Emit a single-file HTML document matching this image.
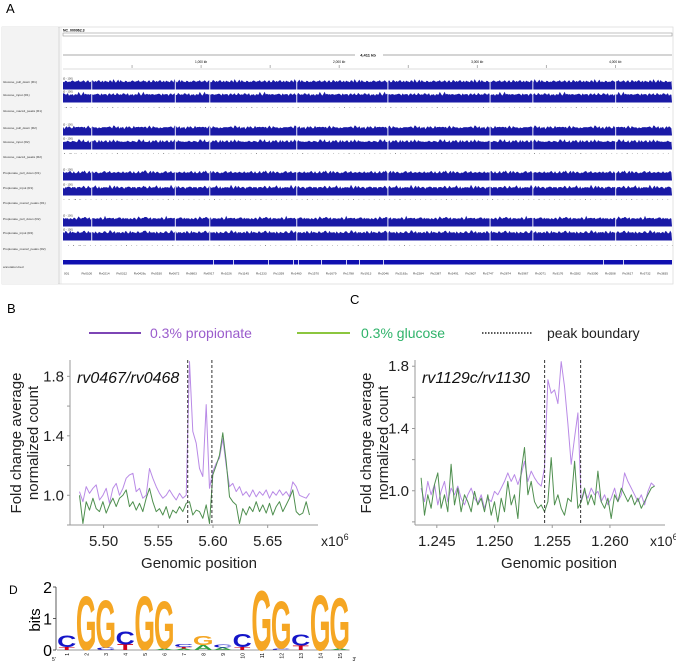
<!DOCTYPE html>
<html><head><meta charset="utf-8"><style>
html,body{margin:0;padding:0;background:#fff;}
svg{display:block;font-family:"Liberation Sans",Arial,sans-serif;}
</style></head><body>
<svg id="fig" width="676" height="663" viewBox="0 0 676 663" xmlns="http://www.w3.org/2000/svg">
<text x="6" y="13" font-size="13">A</text>
<text x="7" y="313" font-size="13">B</text>
<text x="350" y="304" font-size="13">C</text>
<text x="9" y="594" font-size="12">D</text>

<g id="panelA">
  <rect x="2" y="27" width="671" height="257" fill="#fff" stroke="#ddd" stroke-width="0.8"/>
  <rect x="2" y="27" width="56" height="257" fill="#f3f3f3"/>
  <line x1="59" y1="27" x2="59" y2="284" stroke="#ccc" stroke-width="1"/>
  <line x1="61" y1="27" x2="61" y2="284" stroke="#ddd" stroke-width="0.6"/>
  <text x="63" y="31.5" font-size="3.5" font-weight="bold">NC_000962.3</text>
  <rect x="63" y="33" width="609" height="3" fill="none" stroke="#999" stroke-width="0.6"/>
  <line x1="63" y1="55" x2="672" y2="55" stroke="#555" stroke-width="0.6"/>
  <rect x="355" y="52" width="28" height="6" fill="#fff"/>
  <text x="368" y="56.5" font-size="4" text-anchor="middle" font-weight="bold">4,411 kb</text>
  <line x1="63" y1="69" x2="672" y2="69" stroke="#bbb" stroke-width="0.6"/>
  <g id="ruler"></g>
  <g id="tracks"></g>
  <rect x="63" y="260" width="609" height="4.5" fill="#1010b0"/>
  <g id="genes"></g>
</g>

<g id="legend">
  <g>
    <line x1="89" y1="333" x2="141" y2="333" stroke="#7d45b5" stroke-width="2"/>
    <text x="150" y="338" font-size="14" fill="#9a5ccc">0.3% propionate</text>
  </g>
  <g>
    <line x1="297" y1="333" x2="350" y2="333" stroke="#8cc63f" stroke-width="2"/>
    <text x="361" y="338" font-size="14" fill="#2fb36a">0.3% glucose</text>
  </g>
  <g>
    <line x1="482" y1="333" x2="532" y2="333" stroke="#222" stroke-width="1.6" stroke-dasharray="1.5,1.5"/>
    <text x="547" y="338" font-size="14" fill="#222">peak boundary</text>
  </g>
</g>

<g id="chartB"></g>
<g id="chartC"></g>
<g id="logo"></g>
</svg>
<script>
const NS="http://www.w3.org/2000/svg";
function mk(tag,attrs,parent,txt){const e=document.createElementNS(NS,tag);for(const k in attrs)e.setAttribute(k,attrs[k]);if(txt!==undefined)e.textContent=txt;parent.appendChild(e);return e;}

/* ---------- Panel A data ---------- */
const rulerLabels=["1,000 kb","2,000 kb","3,000 kb","4,000 kb"];
const rulerKb=[1000,2000,3000,4000];
const genomeKb=4411;
const trackNames=["Glucose_pull_down (R1)","Glucose_input (R1)","Glucose_macs2_peaks (R1)","Glucose_pull_down (R2)","Glucose_input (R2)","Glucose_macs2_peaks (R2)","Propionate_pull_down (R1)","Propionate_input (R1)","Propionate_macs2_peaks (R1)","Propionate_pull_down (R2)","Propionate_input (R2)","Propionate_macs2_peaks (R2)"];
const trackTops=[77,90,107,123,137,153,168,183,199,214,228,245];
const trackKinds=["cov","cov","peak","cov","cov","peak","cov","cov","peak","cov","cov","peak"];
const coverageProfile=[0.55,0.7,0.6,0.85,0.5,0.65,0.9,0.6,0.45,0.75,0.95,0.6,0.5,0.7,0.8,0.55,0.4,0.65,0.85,0.7,0.5,0.6,1.0,0.65,0.5,0.7,0.6,0.8,0.45,0.55,0.75,0.9,0.6,0.5,0.65,0.7,0.85,0.55,0.45,0.6,0.8,0.7,0.5,0.65,0.95,0.6,0.55,0.7,0.5,0.75];
const gapKb=[205,810,1060,1690,2350,3090,3400,4000];
const geneLabels=["001","Rv0100","Rv0214","Rv0312","Rv0426c","Rv0530","Rv0672","Rv0803","Rv0917","Rv1026","Rv1145","Rv1233","Rv1359","Rv1460","Rv1570","Rv1679","Rv1788","Rv1913","Rv2046","Rv2163c","Rv2284","Rv2387","Rv2491","Rv2607","Rv2747","Rv2874","Rv2967","Rv3071","Rv3176","Rv3282","Rv3390","Rv3508","Rv3617","Rv3732","Rv3835"];
const AX0=63,AX1=672;
function kx(kb){return AX0+(AX1-AX0)*kb/genomeKb;}
const ruler=document.getElementById('ruler');
rulerKb.forEach((kb,i)=>{
  const t=mk('text',{x:kx(kb),y:63,'font-size':3.2,'text-anchor':'middle'},ruler,rulerLabels[i]);
  
  
  mk('line',{x1:kx(kb),y1:65,x2:kx(kb),y2:68,stroke:'#666','stroke-width':0.5},ruler);
  mk('line',{x1:kx(kb-500),y1:65,x2:kx(kb-500),y2:68,stroke:'#666','stroke-width':0.5},ruler);
});
const tracks=document.getElementById('tracks');
trackNames.forEach((nm,i)=>{
  const g=mk('g',{},tracks);
  
  
  const top=trackTops[i];
  mk('text',{x:3,y:top+(trackKinds[i]==='cov'?6:5),'font-size':3.1,fill:'#333'},g,nm);
  if(trackKinds[i]==='cov'){
    mk('text',{x:63,y:top+2.5,'font-size':2.6,fill:'#333'},g,'[0 - 100]');
    const base=top+12.5;
    let d='M'+AX0+' '+base;
    const n=coverageProfile.length;
    for(let x=AX0;x<=AX1;x+=1.2){
      const idx=Math.floor((x-AX0)/1.2);
      const v=coverageProfile[(idx*7+i*3)%n]*0.6+coverageProfile[(idx*3+5)%n]*0.4;
      d+=' L'+x.toFixed(1)+' '+(base-3-v*8).toFixed(1);
    }
    d+=' L'+AX1+' '+base+' Z';
    mk('path',{d:d,fill:'#1a1aa6'},g);
    gapKb.forEach(kb=>mk('rect',{x:kx(kb),y:top+2,width:0.9,height:11,fill:'#fff'},g));
  } else {
    for(let k=0;k<120;k++){
      const kb=(k*37.3+i*11)%genomeKb;
      mk('rect',{x:kx(kb),y:top,width:0.8,height:0.8,fill:(k%9===0?'#555':'#aaa')},g);
    }
  }
});
mk('text',{x:3,y:268,'font-size':3.1,fill:'#333'},tracks,'annotation.bed');
const genes=document.getElementById('genes');
geneLabels.forEach((gl,i)=>{
  const t=mk('text',{x:AX0+1+i*17.45,y:274.5,'font-size':3.1,fill:'#333'},genes,gl);
  
  
});
[150,170,205,230,235,258,283,296,320,540,560].forEach(px=>mk('rect',{x:AX0+px,y:260,width:0.8,height:4.5,fill:'#fff'},genes));

/* ---------- Chart B data ---------- */
const bStart=5.478, bStep=0.003047;
const bPropionate=[1.025,0.957,1.058,1.013,1.047,1.07,0.968,1.0,1.047,0.946,1.047,1.08,1.0,1.047,1.115,1.137,1.148,1.025,1.047,0.98,1.0,1.18,1.115,1.058,1.013,0.98,1.0,1.036,1.0,0.968,1.013,0.98,1.0,1.9,1.43,1.35,1.18,1.126,1.61,1.047,1.16,1.215,1.25,1.38,1.2,1.058,1.08,1.025,1.058,1.0,1.025,0.99,1.036,0.99,1.025,1.0,1.036,0.98,1.025,1.0,1.036,1.0,1.025,0.99,1.09,1.058,1.0,0.99,0.98,1.013];
const bGlucose=[1.0,0.81,0.957,0.9,0.98,0.91,0.89,0.957,0.88,0.935,0.98,0.924,0.98,1.0,1.036,0.924,0.957,0.9,0.946,0.89,0.98,1.047,0.957,0.89,0.91,0.867,0.924,0.845,0.9,0.88,0.924,0.89,0.946,0.957,0.867,0.9,0.89,0.845,0.935,0.81,1.137,1.2,1.27,1.42,1.227,0.99,0.957,0.935,0.81,0.91,0.867,0.924,0.89,0.957,0.89,0.935,0.88,0.946,0.867,0.924,0.957,0.89,0.935,0.98,1.036,0.89,0.867,0.88,0.957,0.867];
const bBoundaries=[5.5769,5.599];
const bXTicks=[5.50,5.55,5.60,5.65];
const bXTickLabels=["5.50","5.55","5.60","5.65"];
const bYTicks=[0.8,1.0,1.2,1.4,1.6,1.8];
const bYTickLabels=["","1.0","","1.4","","1.8"];

/* ---------- Chart C data ---------- */
const cStart=1.24364, cStep=0.000289;
const cPropionate=[1.017,0.93,1.06,0.974,1.04,0.909,0.996,1.06,0.93,1.017,0.974,1.03,0.952,0.909,0.974,1.017,0.952,0.92,0.974,0.887,0.952,0.93,0.996,0.974,1.017,1.06,1.115,1.06,1.104,1.04,1.104,1.19,1.06,1.126,1.083,1.05,1.03,1.148,1.713,1.626,1.648,1.56,1.83,1.67,1.43,1.17,1.343,1.5,0.93,0.996,0.952,1.017,0.974,0.996,0.93,0.974,0.909,0.952,1.017,0.93,0.974,1.115,1.06,1.017,0.974,0.93,0.974,0.909,0.996,1.05,1.03];
const cGlucose=[1.083,0.843,0.974,0.887,1.04,1.115,0.887,0.974,0.865,1.17,0.909,1.017,0.865,0.974,0.93,0.865,0.996,0.909,0.952,0.865,0.974,0.843,0.93,0.8,0.952,0.865,1.06,0.909,0.974,0.822,1.126,1.278,0.974,1.06,0.93,0.887,0.909,0.865,0.93,1.213,0.909,0.974,0.887,0.843,0.952,0.93,1.19,0.887,0.93,1.017,0.909,0.974,0.909,1.126,0.93,0.887,0.952,0.822,0.974,0.93,1.017,0.974,0.93,0.974,0.909,0.952,0.887,0.93,0.974,1.017,1.03];
const cBoundaries=[1.25434,1.25746];
const cXTicks=[1.245,1.250,1.255,1.260];
const cXTickLabels=["1.245","1.250","1.255","1.260"];
const cYTicks=[0.8,1.0,1.2,1.4,1.6,1.8];
const cYTickLabels=["","1.0","","1.4","","1.8"];

function drawLine(cfg){
  const g=document.getElementById(cfg.id);
  const L=cfg.left,R=cfg.right,T=360,B=525;
  const xs=v=>L+(v-cfg.xmin)/(cfg.xmax-cfg.xmin)*(R-L);
  const ys=v=>B-(v-cfg.ymin)/(cfg.ymax-cfg.ymin)*(B-T);
  const ax=mk('g',{},g);
  
  
  mk('line',{x1:L,y1:T,x2:L,y2:B,stroke:'#999','stroke-width':1},ax);
  cfg.yTicks.forEach((t,i)=>{
    mk('line',{x1:L-3,y1:ys(t),x2:L,y2:ys(t),stroke:'#999','stroke-width':1},ax);
    if(cfg.yLabels[i]) mk('text',{x:L-6,y:ys(t)+5,'font-size':15,'text-anchor':'end',fill:'#222'},ax,cfg.yLabels[i]);
  });
  const xa=mk('g',{},g);
  
  
  mk('line',{x1:L,y1:B,x2:R,y2:B,stroke:'#999','stroke-width':1},xa);
  cfg.xTicks.forEach((t,i)=>{
    mk('line',{x1:xs(t),y1:B,x2:xs(t),y2:B+3,stroke:'#999','stroke-width':1},xa);
    mk('text',{x:xs(t),y:B+21,'font-size':15,'text-anchor':'middle',fill:'#222'},xa,cfg.xLabels[i]);
  });
  const ex=mk('text',{x:cfg.expX,y:B+21,'font-size':14,fill:'#222'},xa,'x10');
  mk('tspan',{'font-size':9,dy:-6},ex,'6');
  const xt=mk('text',{x:cfg.titleX,y:568,'font-size':15,'text-anchor':'middle',fill:'#222'},g,'Genomic position');
  
  
  const yt=mk('text',{transform:'translate('+cfg.ytX+',443) rotate(-90)','font-size':15,'text-anchor':'middle',fill:'#222'},g);
  
  
  mk('tspan',{x:0,y:0},yt,'Fold change average');
  mk('tspan',{x:0,y:17},yt,'normalized count');
  const lb=mk('text',{x:L+7,y:383,'font-size':16,'font-style':'italic',fill:'#111'},g,cfg.label);
  
  
  function series(vals,color,name){
    let d='';
    vals.forEach((v,i)=>{const vv=Math.min(v,cfg.ymax);d+=(i?'L':'M')+xs(cfg.start+i*cfg.step).toFixed(1)+' '+ys(vv).toFixed(1);});
    const p=mk('path',{d:d,fill:'none',stroke:color,'stroke-width':1,'stroke-linejoin':'round'},g);
    
    
  }
  series(cfg.prop,'#b98ae6','series-propionate');
  series(cfg.gluc,'#4f8f4f','series-glucose');
  cfg.bounds.forEach(b=>{
    const l=mk('line',{x1:xs(b),y1:T,x2:xs(b),y2:B,stroke:'#333','stroke-width':1,'stroke-dasharray':'3,2'},g);
    
    
  });
}
drawLine({id:'chartB',left:70,right:318,xmin:5.4693,xmax:5.6960,ymin:0.8,ymax:1.91,start:bStart,step:bStep,prop:bPropionate,gluc:bGlucose,bounds:bBoundaries,xTicks:bXTicks,xLabels:bXTickLabels,yTicks:bYTicks,yLabels:bYTickLabels,expX:321,titleX:199,ytX:21,label:'rv0467/rv0468'});
drawLine({id:'chartC',left:415,right:665,xmin:1.24311,xmax:1.26477,ymin:0.78,ymax:1.84,start:cStart,step:cStep,prop:cPropionate,gluc:cGlucose,bounds:cBoundaries,xTicks:cXTicks,xLabels:cXTickLabels,yTicks:cYTicks,yLabels:cYTickLabels,expX:650,titleX:559,ytX:371,label:'rv1129c/rv1130'});

/* ---------- Sequence logo data ---------- */
const logoPositions=["1","2","3","4","5","6","7","8","9","10","11","12","13","14","15"];
const logoLetters=[["T","C"],["G"],["C","G"],["T","C"],["G"],["A","G"],["A","T","C"],["A","G"],["A","C"],["T","C"],["G"],["C","G"],["T","C"],["G"],["A","G"]];
const logoHeights=[[0.1,0.38],[1.75],[0.08,1.55],[0.18,0.42],[1.75],[0.05,1.55],[0.05,0.05,0.1],[0.16,0.3],[0.08,0.1],[0.1,0.42],[1.95],[0.05,1.55],[0.15,0.36],[1.8],[0.05,1.65]];
const letterColors={A:'#2ea043',C:'#1515c8',G:'#f5a623',T:'#d0021b'};
(function(){
  const g=document.getElementById('logo');
  const L=57,Y0=650,pb=31.5,cw=19.5;
  mk('line',{x1:L-1,y1:Y0-2*pb,x2:L-1,y2:Y0,stroke:'#333','stroke-width':0.8},g);
  ["0","1","2"].forEach((t,i)=>{
    mk('line',{x1:L-4,y1:Y0-i*pb,x2:L-1,y2:Y0-i*pb,stroke:'#333','stroke-width':0.8},g);
    mk('text',{x:L-5,y:Y0-i*pb+6,'font-size':16,'text-anchor':'end'},g,t);
  });
  const yl=mk('text',{transform:'translate(40,620) rotate(-90)','font-size':15,'text-anchor':'middle'},g,'bits');
  
  
  mk('line',{x1:L,y1:Y0,x2:L+15*cw,y2:Y0,stroke:'#333','stroke-width':0.6},g);
  logoPositions.forEach((p,i)=>{
    const cx=L+i*cw+cw/2;
    let y=Y0;
    logoLetters[i].forEach((ch,j)=>{
      const h=logoHeights[i][j]*pb;
      const sx=(cw*0.98)/72, sy=h/72;
      const t=mk('text',{transform:'translate('+cx+','+y+') scale('+sx.toFixed(4)+','+sy.toFixed(4)+')','font-size':100,'font-weight':'bold','text-anchor':'middle',fill:letterColors[ch]},g,ch);
      
      
      y-=h;
    });
    mk('text',{transform:'translate('+(cx+2)+',653) rotate(-90)','font-size':5,'text-anchor':'end'},g,p);
  });
  mk('text',{x:L-5,y:661,'font-size':5},g,"5'");
  mk('text',{x:L+15*cw+3,y:661,'font-size':5},g,"3'");
})();
</script>
</body></html>
